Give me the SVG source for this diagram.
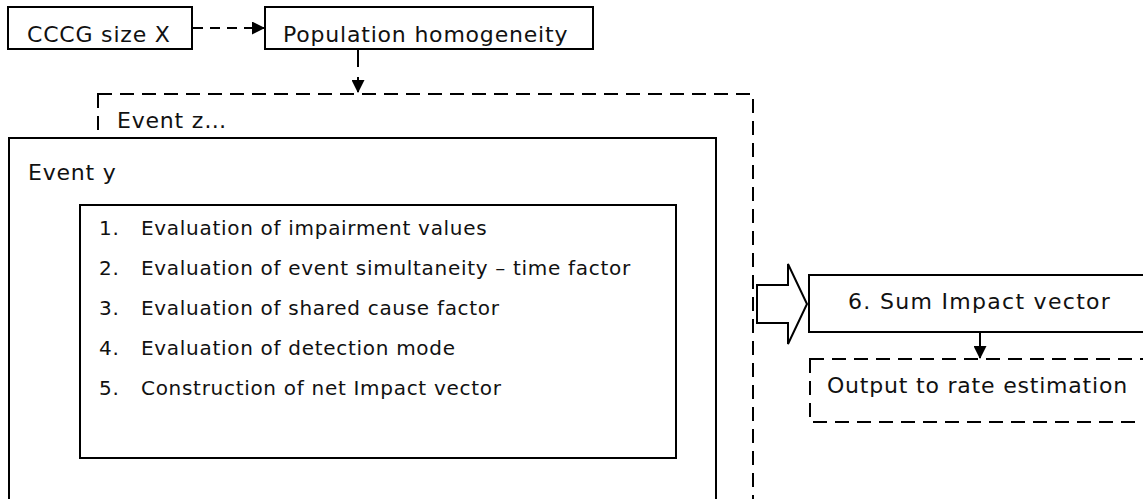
<svg xmlns="http://www.w3.org/2000/svg" width="1143" height="499" viewBox="0 0 1143 499">
<defs>
<style>
.box{fill:#fff;stroke:#000;stroke-width:2}
.dbox{fill:none;stroke:#000;stroke-width:2;stroke-dasharray:14 8}
.t{font-family:"DejaVu Sans",Verdana,sans-serif;font-size:22px;letter-spacing:0.8px;fill:#111}
.it{font-family:"DejaVu Sans",Verdana,sans-serif;font-size:20px;letter-spacing:0.7px;fill:#111}
.con{fill:none;stroke:#000;stroke-width:2}
</style>
<marker id="ah" markerWidth="13" markerHeight="13" refX="12" refY="6.5" orient="auto" markerUnits="userSpaceOnUse">
<path d="M0,0 L13,6.5 L0,13 Z" fill="#000"/>
</marker>
</defs>
<rect width="1143" height="499" fill="#fff"/>
<g id="event-z">
<rect class="dbox" x="98" y="94" width="655" height="430"/>
<text class="t" x="117" y="128">Event z…</text>
</g>
<g id="event-y">
<rect class="box" x="9" y="138" width="707" height="380"/>
<text class="t" x="28" y="180">Event y</text>
</g>
<g id="steps">
<rect class="box" x="80" y="205" width="596" height="253"/>
<text class="it" x="99" y="235">1.</text><text class="it" x="141" y="235">Evaluation of impairment values</text>
<text class="it" x="99" y="275">2.</text><text class="it" x="141" y="275">Evaluation of event simultaneity – time factor</text>
<text class="it" x="99" y="315">3.</text><text class="it" x="141" y="315">Evaluation of shared cause factor</text>
<text class="it" x="99" y="355">4.</text><text class="it" x="141" y="355">Evaluation of detection mode</text>
<text class="it" x="99" y="395">5.</text><text class="it" x="141" y="395">Construction of net Impact vector</text>
</g>
<g id="cccg">
<rect class="box" x="8" y="7" width="184" height="42"/>
<text class="t" x="27" y="42">CCCG size X</text>
</g>
<g id="population">
<rect class="box" x="265" y="7" width="328" height="42"/>
<text class="t" x="283" y="42">Population homogeneity</text>
</g>
<g id="sum">
<rect class="box" x="809" y="275" width="340" height="57"/>
<text class="t" x="848" y="309" style="letter-spacing:1.3px">6. Sum Impact vector</text>
</g>
<g id="output">
<rect class="dbox" x="810" y="359" width="340" height="63"/>
<text class="t" x="827" y="393">Output to rate estimation</text>
</g>
<g id="connectors">
<path class="con" d="M193,28 H264" stroke-dasharray="10 7" marker-end="url(#ah)"/>
<path class="con" d="M358,49 V92" stroke-dasharray="18 10" marker-end="url(#ah)"/>
<path class="con" d="M980,332 V358" marker-end="url(#ah)"/>
<polygon points="757,285 788,285 788,264 807,304 788,344 788,323 757,323" fill="#fff" stroke="#000" stroke-width="2" stroke-linejoin="miter"/>
</g>
</svg>
